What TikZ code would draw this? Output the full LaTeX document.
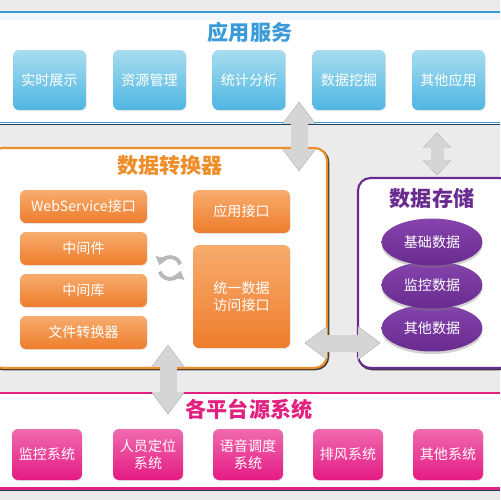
\documentclass[tikz,border=0pt]{standalone}
\usepackage{fontspec}
\setmainfont{Noto Sans CJK SC}
\usetikzlibrary{arrows.meta,shapes.geometric,shadows}
\definecolor{bggray}{HTML}{EBEBEB}
\definecolor{appblue}{HTML}{3B9BD8}
\definecolor{appdark}{HTML}{1E3F5E}
\definecolor{bluetop}{HTML}{A8DDEF}
\definecolor{bluebot}{HTML}{4EB6E2}
\definecolor{convorange}{HTML}{EE8E2A}
\definecolor{orangetop}{HTML}{F7AC6E}
\definecolor{orangebot}{HTML}{EE7D2C}
\definecolor{storepurple}{HTML}{6A2B90}
\definecolor{purplelight}{HTML}{8444AC}
\definecolor{srcpink}{HTML}{E2207F}
\definecolor{pinktop}{HTML}{F06AAE}
\definecolor{pinkbot}{HTML}{E51A83}
\definecolor{arrowgray}{HTML}{D5D5D5}
\definecolor{arrowdark}{HTML}{3C3C3C}

\begin{document}
\begin{tikzpicture}[x=0.02cm,y=-0.02cm,
    every node/.style={inner sep=0pt, text=white, align=center, font=\fontsize{8}{9.6}\selectfont},
    paneltitle/.style={font=\fontsize{12}{14}\selectfont\bfseries},
    appbox/.style={rounded corners=0.12cm, minimum width=1.46cm, minimum height=1.2cm,
        top color=bluetop, bottom color=bluebot,
        drop shadow={shadow xshift=0.4pt, shadow yshift=-0.6pt, opacity=0.2}},
    convbox/.style={rounded corners=0.12cm, minimum width=2.54cm, minimum height=0.66cm,
        top color=orangetop, bottom color=orangebot,
        drop shadow={shadow xshift=0.4pt, shadow yshift=-0.6pt, opacity=0.2}},
    databox/.style={ellipse, minimum width=2.02cm, minimum height=0.94cm,
        top color=purplelight, bottom color=storepurple,
        drop shadow={shadow xshift=0pt, shadow yshift=-1.5pt, opacity=0.35}},
    srcbox/.style={rounded corners=0.12cm, minimum width=1.4cm, minimum height=1.02cm,
        top color=pinktop, bottom color=pinkbot,
        drop shadow={shadow xshift=0.4pt, shadow yshift=-0.6pt, opacity=0.2}},
    bigarrow/.style={line width=0.34cm, arrowgray,
        >={Triangle[width=0.66cm, length=0.44cm, line width=0pt]}, <->},
    bigshade/.style={bigarrow, arrowdark, xshift=0.7pt, yshift=-0.7pt},
    syncarc/.style={line width=2.2pt, gray!55, -{Triangle[width=7pt, length=4.5pt, line width=0pt]}}]

    \fill [bggray] (0,0) rectangle (500,500);
    \useasboundingbox (0,0) rectangle (500,500);

    % application services
    \fill [white] (0,12) rectangle (500,124);
    \fill [appblue!8] (0,13) rectangle (500,20);
    \draw [appblue, line width=1.4pt] (0,12) -- (500,12);
    \draw [appblue, line width=1pt] (0,122.5) -- (500,122.5);
    \draw [appdark, line width=1pt] (0,124.5) -- (500,124.5);
    \node [paneltitle, text=appblue] (apptitle) at (250,32) {应用服务};
    \foreach \i/\x/\t in {1/49.5/实时展示, 2/149.5/资源管理, 3/249/统计分析, 4/349/数据挖掘, 5/448.5/其他应用}
        \node [appbox] (a\i) at (\x,80) {\t};

    % data converter
    \draw [arrowdark, line width=1.2pt, rounded corners=0.25cm] (-10,149.2) rectangle (328.2,369.2);
    \draw [convorange, line width=1.2pt, fill=white, rounded corners=0.25cm] (-10,148) rectangle (327,368);
    \node [paneltitle, text=convorange] (convtitle) at (170,166) {数据转换器};
    \node [convbox] (ws) at (83.5,206.5) {WebService接口};
    \node [convbox] (midware) at (83.5,248.5) {中间件};
    \node [convbox] (midlib) at (83.5,290.5) {中间库};
    \node [convbox] (filecv) at (83.5,332.5) {文件转换器};
    \node [convbox, minimum width=1.94cm, minimum height=0.86cm] (appif) at (241.5,211.5) {应用接口};
    \node [convbox, minimum width=1.94cm, minimum height=2.06cm] (unif) at (241.5,296.5) {统一数据\\访问接口};
    \coordinate (sync) at (170,268);
    \draw [syncarc] ([shift={(-20:11)}]sync) arc (-20:-165:11);
    \draw [syncarc] ([shift={(160:11)}]sync) arc (160:15:11);

    % data storage
    \draw [arrowdark, line width=1.2pt, rounded corners=0.25cm] (359.2,179.2) rectangle (512,369.2);
    \draw [storepurple, line width=1.2pt, fill=white, rounded corners=0.25cm] (358,178) rectangle (512,368);
    \node [paneltitle, text=storepurple] (storetitle) at (432,198) {数据存储};
    \node [databox] (d3) at (432,328) {其他数据};
    \node [databox] (d2) at (432,285) {监控数据};
    \node [databox] (d1) at (432,242) {基础数据};

    % source systems
    \fill [white] (0,393) rectangle (500,490);
    \draw [srcpink, line width=1.4pt] (0,393) -- (500,393);
    \draw [srcpink, line width=1.2pt] (0,488.5) -- (500,488.5);
    \draw [appdark, line width=0.8pt] (0,490.5) -- (500,490.5);
    \node [paneltitle, text=srcpink] (srctitle) at (249,409) {各平台源系统};
    \foreach \i/\x/\t in {1/47/监控系统, 2/148/人员定位\\系统, 3/248/语音调度\\系统, 4/348/排风系统, 5/448/其他系统}
        \node [srcbox] (s\i) at (\x,454.5) {\t};

    % links
    \coordinate (appconvA) at (299,102);
    \coordinate (appconvB) at (299,171);
    \coordinate (appstoreA) at (437,133);
    \coordinate (appstoreB) at (437,175);
    \coordinate (convstoreA) at (305,343);
    \coordinate (convstoreB) at (380,343);
    \coordinate (convsrcA) at (168,345);
    \coordinate (convsrcB) at (168,414);
    \draw [bigshade] (appconvA) -- (appconvB);
    \draw [bigarrow] (appconvA) -- (appconvB);
    \draw [bigshade, line width=0.26cm, >={Triangle[width=0.56cm, length=0.3cm, line width=0pt]}] (appstoreA) -- (appstoreB);
    \draw [bigarrow, line width=0.26cm, >={Triangle[width=0.56cm, length=0.3cm, line width=0pt]}] (appstoreA) -- (appstoreB);
    \draw [bigshade] (convstoreA) -- (convstoreB);
    \draw [bigarrow] (convstoreA) -- (convstoreB);
    \draw [bigshade] (convsrcA) -- (convsrcB);
    \draw [bigarrow] (convsrcA) -- (convsrcB);
\end{tikzpicture}
\end{document}
